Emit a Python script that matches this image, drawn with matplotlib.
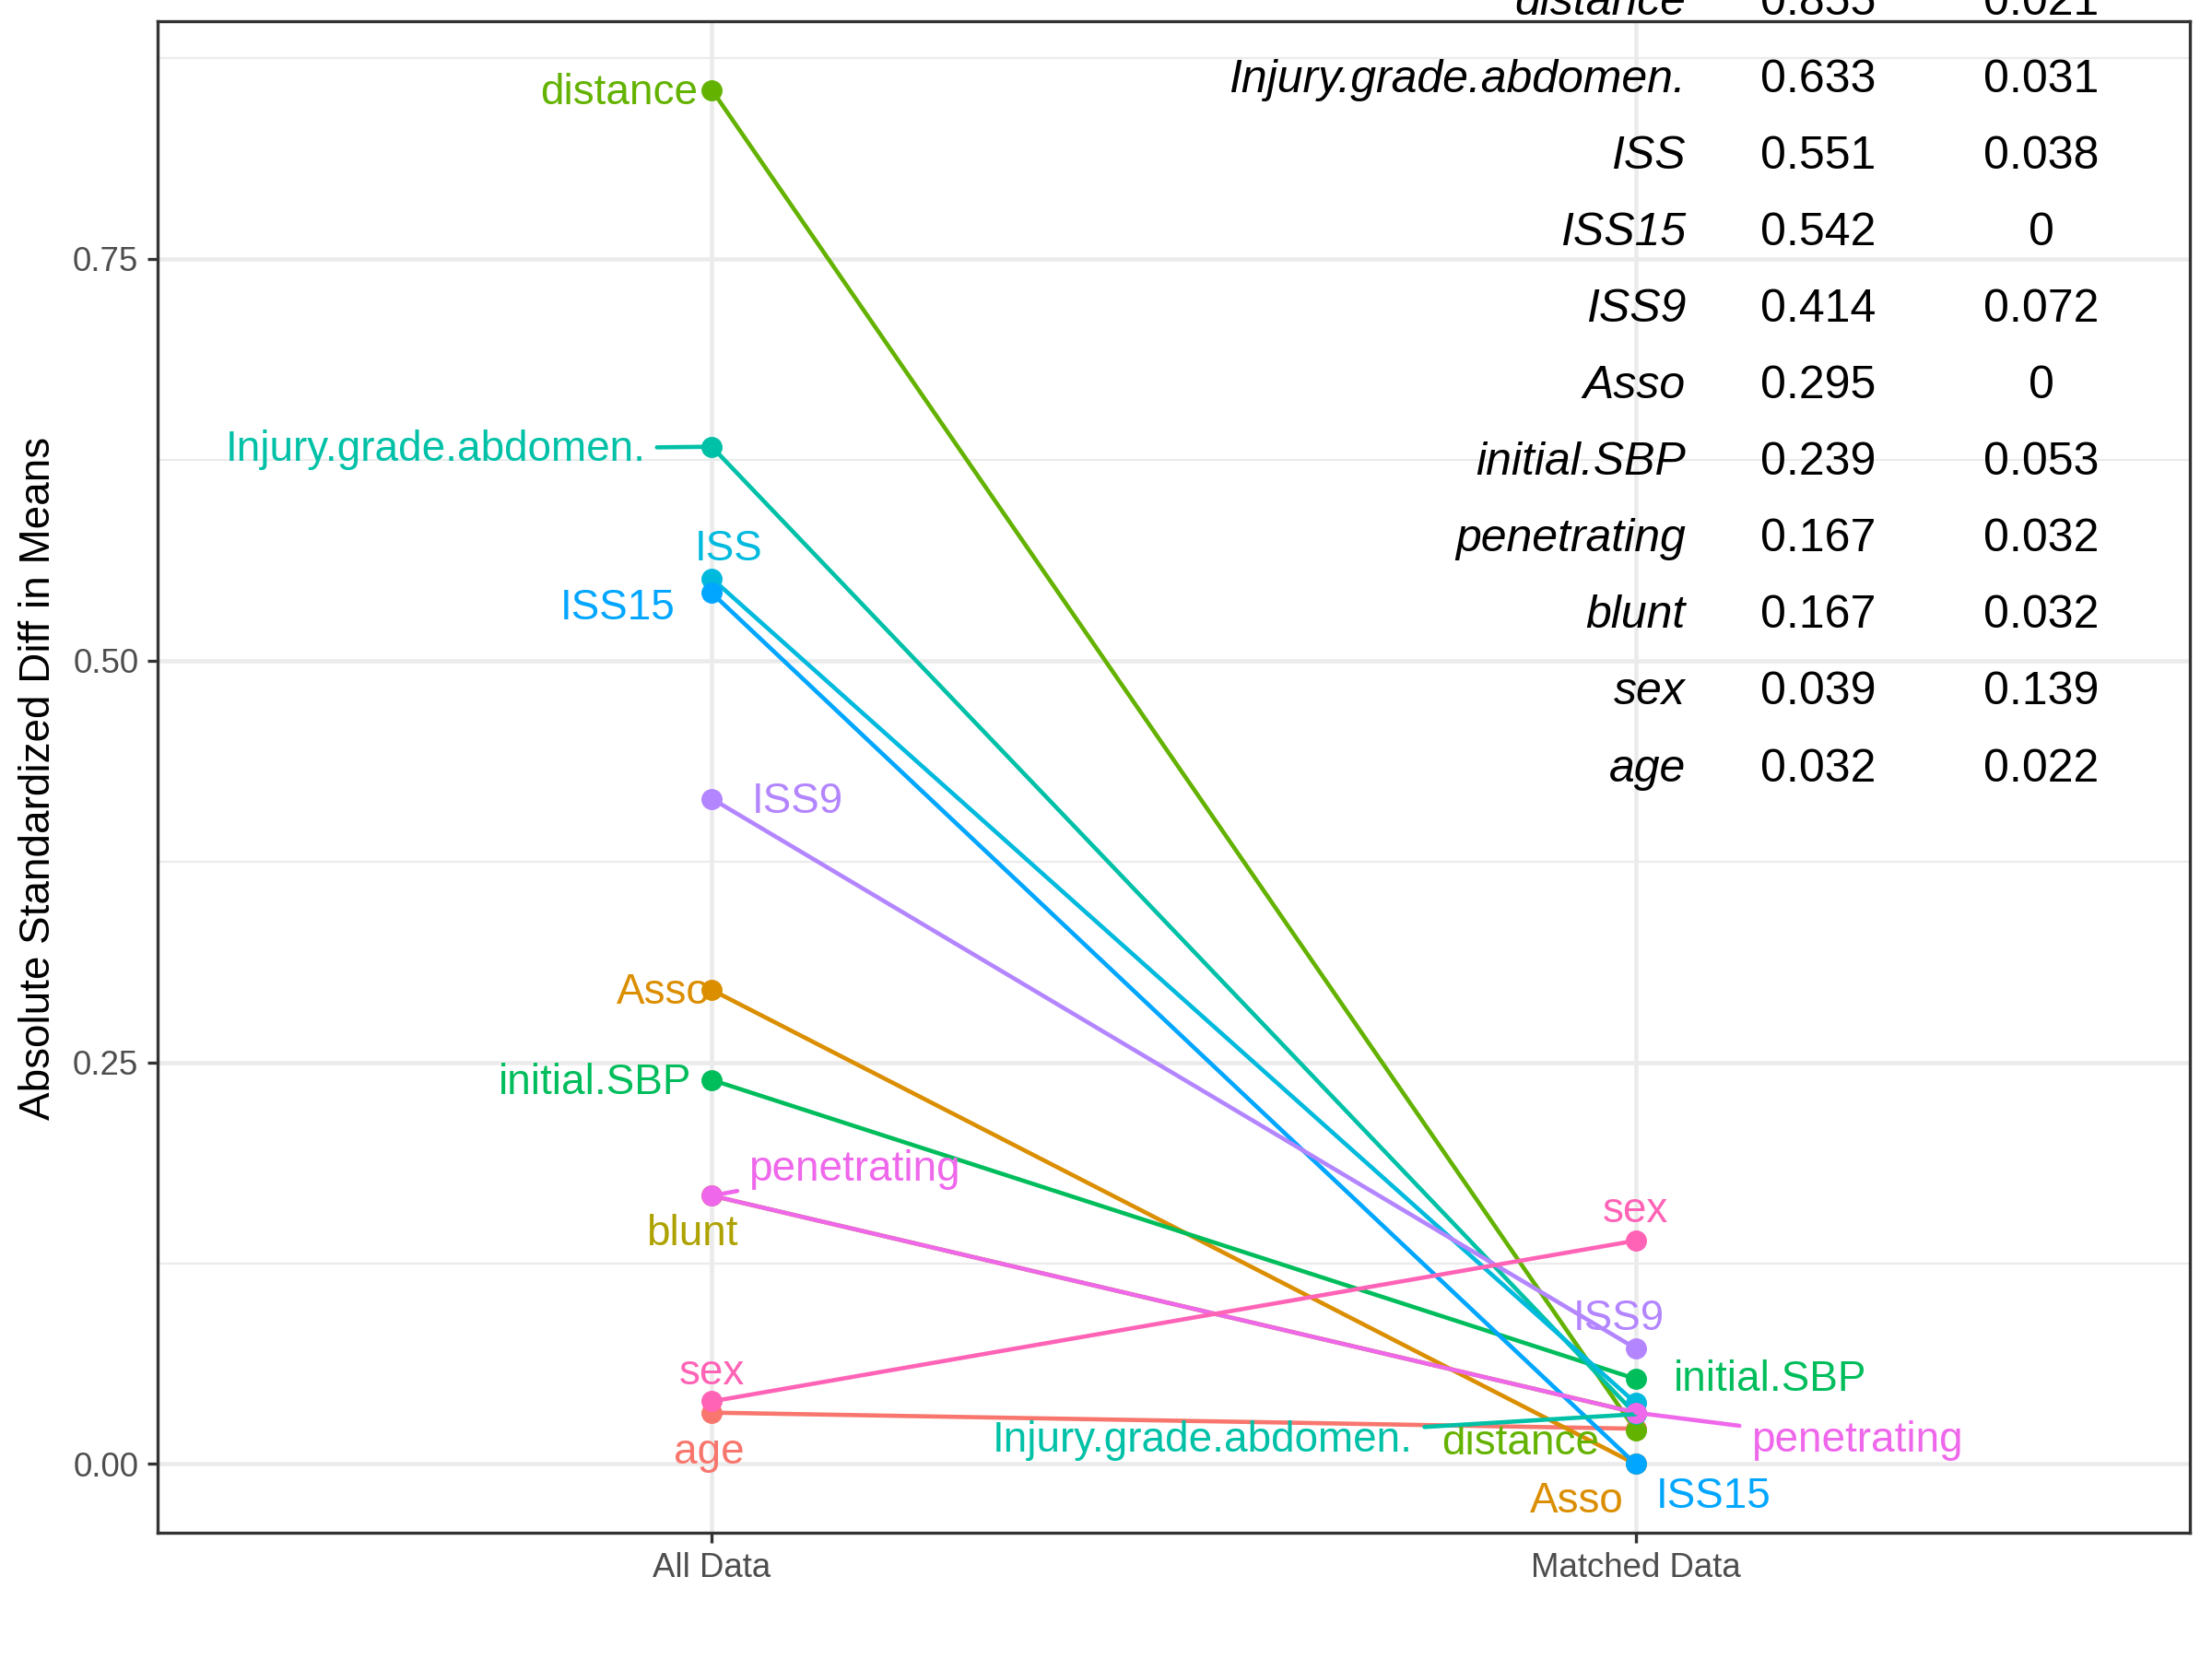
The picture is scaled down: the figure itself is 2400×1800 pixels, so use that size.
import matplotlib
matplotlib.use("Agg")
import matplotlib.pyplot as plt

# balance data: absolute standardized difference in means
variables = ["age", "Asso", "blunt", "distance", "initial.SBP", "Injury.grade.abdomen.",
             "ISS", "ISS15", "ISS9", "penetrating", "sex"]
all_data = [0.032, 0.295, 0.167, 0.855, 0.239, 0.633, 0.551, 0.542, 0.414, 0.167, 0.039]
matched_data = [0.022, 0.0, 0.032, 0.021, 0.053, 0.031, 0.038, 0.0, 0.072, 0.032, 0.139]
x_labels = ["All Data", "Matched Data"]
colors = ["#F8766D", "#DB8E00", "#AEA200", "#64B200", "#00BD5C", "#00C1A7",
          "#00BADE", "#00A6FF", "#B385FF", "#EF67EB", "#FF63B6"]

# row order of the table in the corner
table_order = ["distance", "Injury.grade.abdomen.", "ISS", "ISS15", "ISS9", "Asso",
               "initial.SBP", "penetrating", "blunt", "sex", "age"]

# label placement (offset in points, alignment, draw segment), like ggrepel did it
left_labels = {
    "distance": (-3.7, -0.8, "right", False),
    "Injury.grade.abdomen.": (-17.3, -0.8, "right", True),
    "ISS": (4.4, 7.7, "center", False),
    "ISS15": (-9.6, -4.1, "right", False),
    "ISS9": (10.3, -0.8, "left", False),
    "Asso": (-0.4, -0.8, "right", False),
    "initial.SBP": (-5.2, -0.8, "right", False),
    "penetrating": (9.6, 6.8, "left", True),
    "blunt": (-5.2, -10, "center", False),
    "sex": (0, 7.3, "center", False),
    "age": (-0.7, -10.4, "center", False),
}
right_labels = {
    "sex": (0, 7.7, "center", False),
    "ISS9": (-4.4, 7.7, "center", False),
    "initial.SBP": (10, -0.3, "left", False),
    "penetrating": (30, -7.3, "left", True),
    "Injury.grade.abdomen.": (-58, -6.8, "right", True),
    "distance": (-30, -3.4, "center", False),
    "Asso": (-3, -9.7, "right", False),
    "ISS15": (5.2, -8.5, "left", False),
}

plt.rcParams['font.family'] = ['Liberation Sans', 'DejaVu Sans']

fig = plt.figure(figsize=(8, 6), dpi=300)
ax = fig.add_axes([0.07125, 0.0761, 0.91875, 0.9111])

ax.set_xlim(0.4, 2.6)
ax.set_ylim(-0.04275, 0.89775)
ax.set_xticks([1, 2])
ax.set_xticklabels(x_labels)
ax.set_yticks([0, 0.25, 0.5, 0.75])
ax.set_yticklabels(["0.00", "0.25", "0.50", "0.75"])
ax.set_yticks([0.125, 0.375, 0.625, 0.875], minor=True)
ax.set_axisbelow(True)
ax.grid(which="major", color="#EBEBEB", lw=1.1)
ax.grid(which="minor", axis="y", color="#EBEBEB", lw=0.55)
ax.tick_params(which="minor", length=0)
ax.tick_params(which="major", length=2.75, width=0.8, color="#333333",
               labelcolor="#4D4D4D", labelsize=8.8, pad=2.2)
for sp in ax.spines.values():
    sp.set_color("#333333")
    sp.set_linewidth(0.8)

fig.text(0.0175, 0.5306, "Absolute Standardized Diff in Means",
         rotation=90, ha="center", va="center", fontsize=11)

for v, a, m, c in zip(variables, all_data, matched_data, colors):
    ax.plot([1, 2], [a, m], color=c, lw=1.1, zorder=2)
for v, a, m, c in zip(variables, all_data, matched_data, colors):
    ax.plot([1, 2], [a, m], "o", color=c, ms=4.5, zorder=3)

for xpos, vals, labs in [(1, all_data, left_labels), (2, matched_data, right_labels)]:
    for v, val, c in zip(variables, vals, colors):
        if v not in labs:
            continue
        dx, dy, ha, seg = labs[v]
        kw = {}
        if seg:
            kw["arrowprops"] = dict(arrowstyle="-", color=c, lw=1.1, shrinkA=1, shrinkB=0)
        ax.annotate(v, xy=(xpos, val), xytext=(dx, dy), textcoords="offset points",
                    ha=ha, va="center", fontsize=11, color=c, zorder=4, **kw)

# table of values in the top right (top row runs off the page, as in the original)
def fmt(x):
    return "0" if x == 0 else f"{x:.3f}"

for i, name in enumerate(table_order):
    k = variables.index(name)
    y = 1 - (16.5 + 83.1 * i) / 1800
    fig.text(0.7621, y, name, ha="right", va="baseline", fontsize=12, style="italic")
    fig.text(0.8221, y, fmt(all_data[k]), ha="center", va="baseline", fontsize=12)
    fig.text(0.9229, y, fmt(matched_data[k]), ha="center", va="baseline", fontsize=12)

fig.savefig("out.png", dpi=300)
